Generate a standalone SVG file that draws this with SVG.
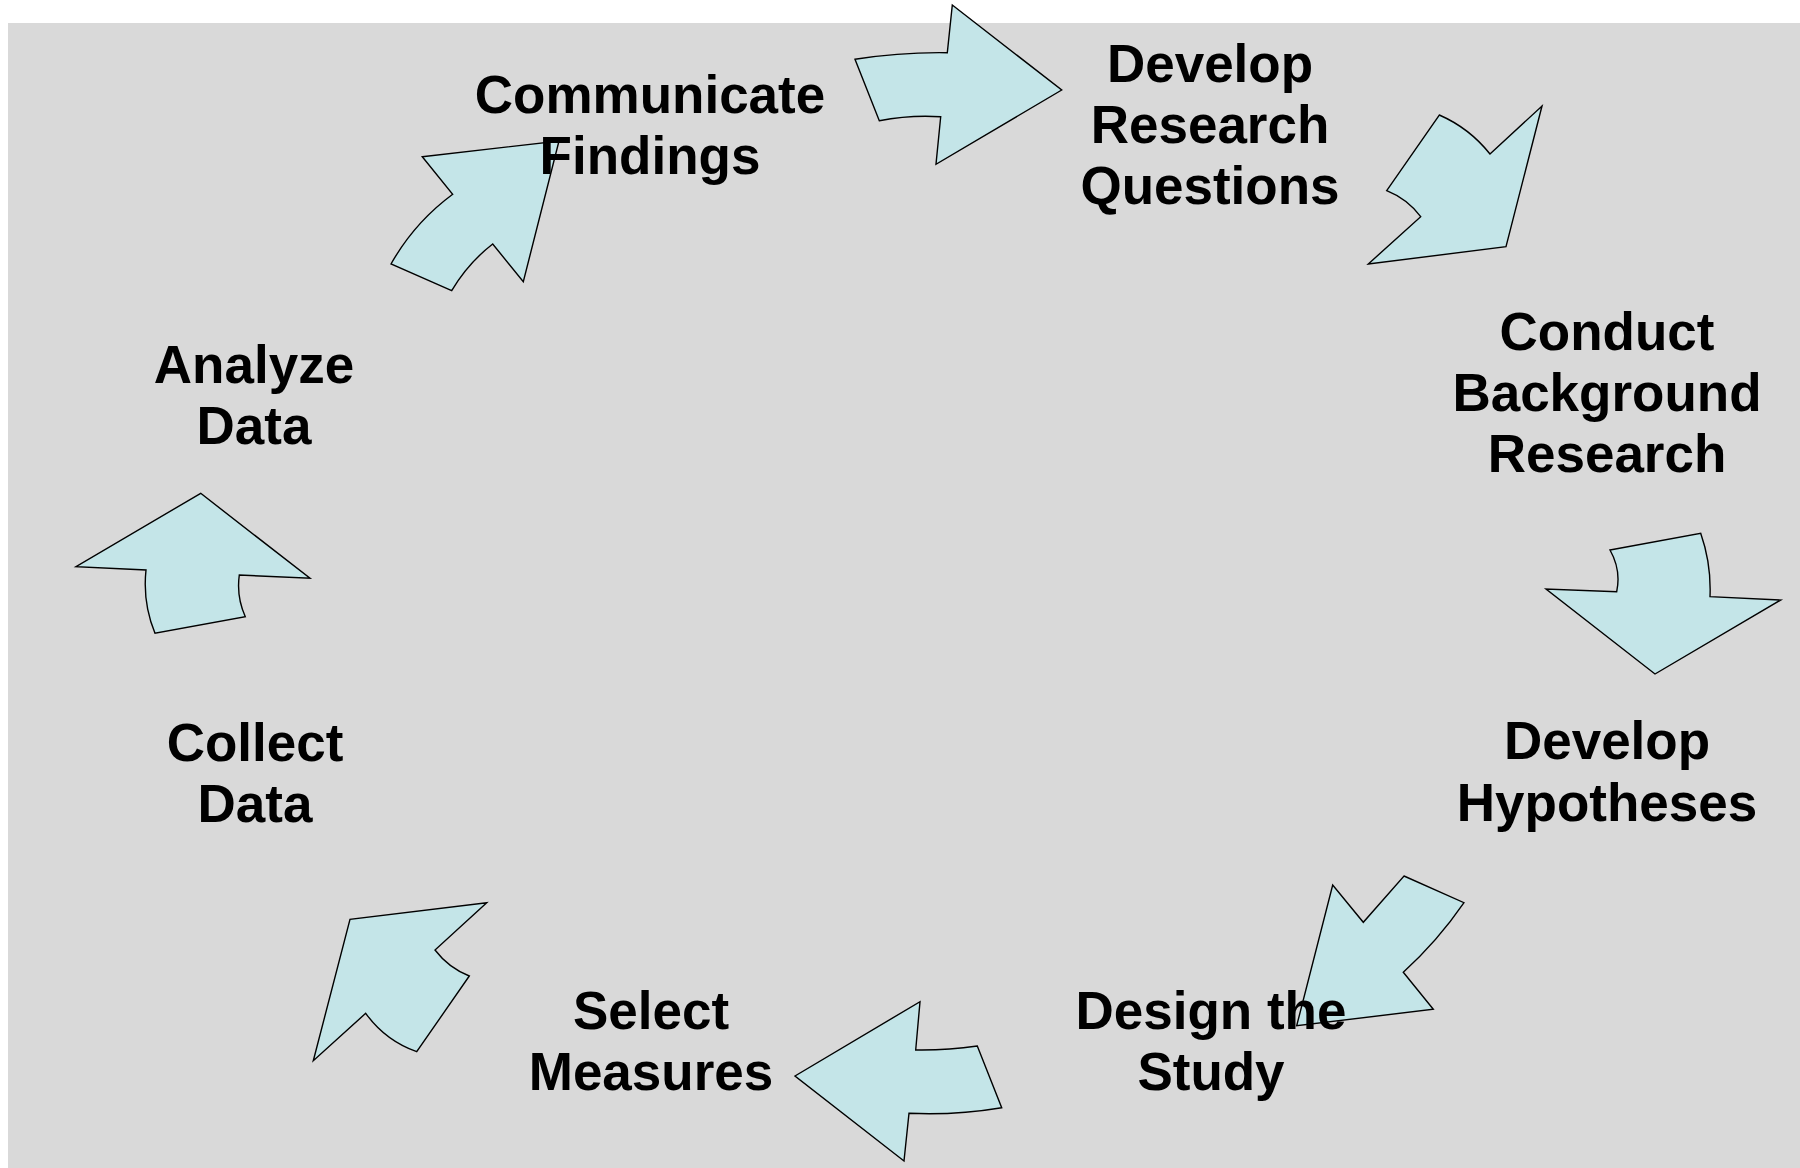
<svg xmlns="http://www.w3.org/2000/svg" width="1800" height="1168" viewBox="0 0 1800 1168">
<style>
.bg{fill:#D9D9D9}
.arr{fill:#C4E5E8;stroke:#000;stroke-width:1.4;stroke-linejoin:miter}
.lbl{font-family:"Liberation Sans",Arial,sans-serif;font-weight:bold;font-size:53px;fill:#000;text-anchor:middle}
</style>
<rect width="1800" height="1168" fill="#FFFFFF"/>
<rect class="bg" x="8" y="23" width="1792" height="1145"/>
<g id="connectors">
<path id="arrow1" class="arr" d="M855,59.3 Q901,52 947.3,52.7 L952.3,5 L1061.7,90 L936,164.3 L940.7,116.7 Q910,114.7 879.3,120.7 Z"/>
<path id="arrow2" class="arr" d="M1439.3,115 Q1469.4,128.1 1490,154 L1542,106 L1506,246.7 L1368.3,264 L1420.7,216.7 Q1407.4,199 1386.7,190.7 Z"/>
<path id="arrow3" class="arr" d="M1610,550 L1700.7,533.3 Q1711.4,564 1710,596.7 L1780.7,600 L1655,674 L1546,589 L1616.7,591.7 Q1621.3,570 1610,550 Z"/>
<path id="arrow4" class="arr" d="M1404,876 L1464,902.7 Q1437.7,941 1403.3,972.3 L1433.3,1009.3 L1296.7,1025.7 L1332.7,885 L1363.3,922.3 Z"/>
<path id="arrow5" class="arr" d="M977.3,1046 Q946.5,1050.5 915.7,1050 L920,1001.7 L795,1076 L904,1161 L909,1113.3 Q955.3,1115.5 1001.7,1107.7 Z"/>
<path id="arrow6" class="arr" d="M486.7,902.7 L435,950 Q448.6,967.8 469.3,976 L416.7,1051.7 Q385.2,1040.5 365.7,1013.3 L313.3,1060.7 L350,919.3 Z"/>
<path id="arrow7" class="arr" d="M200.7,493.3 L310,578.3 L239.3,575 Q236.3,596.5 245.3,616.7 L155,633.3 Q142.5,602.8 146,570 L76,566.7 Z"/>
<path id="arrow8" class="arr" d="M422.3,156.7 L559,141 L523.3,281.7 L492.7,244 Q467.7,263.4 451.7,290.7 L391,264 Q414.4,222.6 452.7,194.3 Z"/>
</g>
<g id="node-communicate"><text class="lbl" x="650" y="113">Communicate</text><text class="lbl" x="650" y="174">Findings</text></g>
<g id="node-questions"><text class="lbl" x="1210" y="82">Develop</text><text class="lbl" x="1210" y="143">Research</text><text class="lbl" x="1210" y="204">Questions</text></g>
<g id="node-background"><text class="lbl" x="1607" y="350">Conduct</text><text class="lbl" x="1607" y="411">Background</text><text class="lbl" x="1607" y="472">Research</text></g>
<g id="node-hypotheses"><text class="lbl" x="1607" y="759">Develop</text><text class="lbl" x="1607" y="821">Hypotheses</text></g>
<g id="node-design"><text class="lbl" x="1211" y="1029">Design the</text><text class="lbl" x="1211" y="1090">Study</text></g>
<g id="node-measures"><text class="lbl" x="651" y="1029">Select</text><text class="lbl" x="651" y="1090">Measures</text></g>
<g id="node-collect"><text class="lbl" x="255" y="761">Collect</text><text class="lbl" x="255" y="822">Data</text></g>
<g id="node-analyze"><text class="lbl" x="254" y="383">Analyze</text><text class="lbl" x="254" y="444">Data</text></g>
</svg>
